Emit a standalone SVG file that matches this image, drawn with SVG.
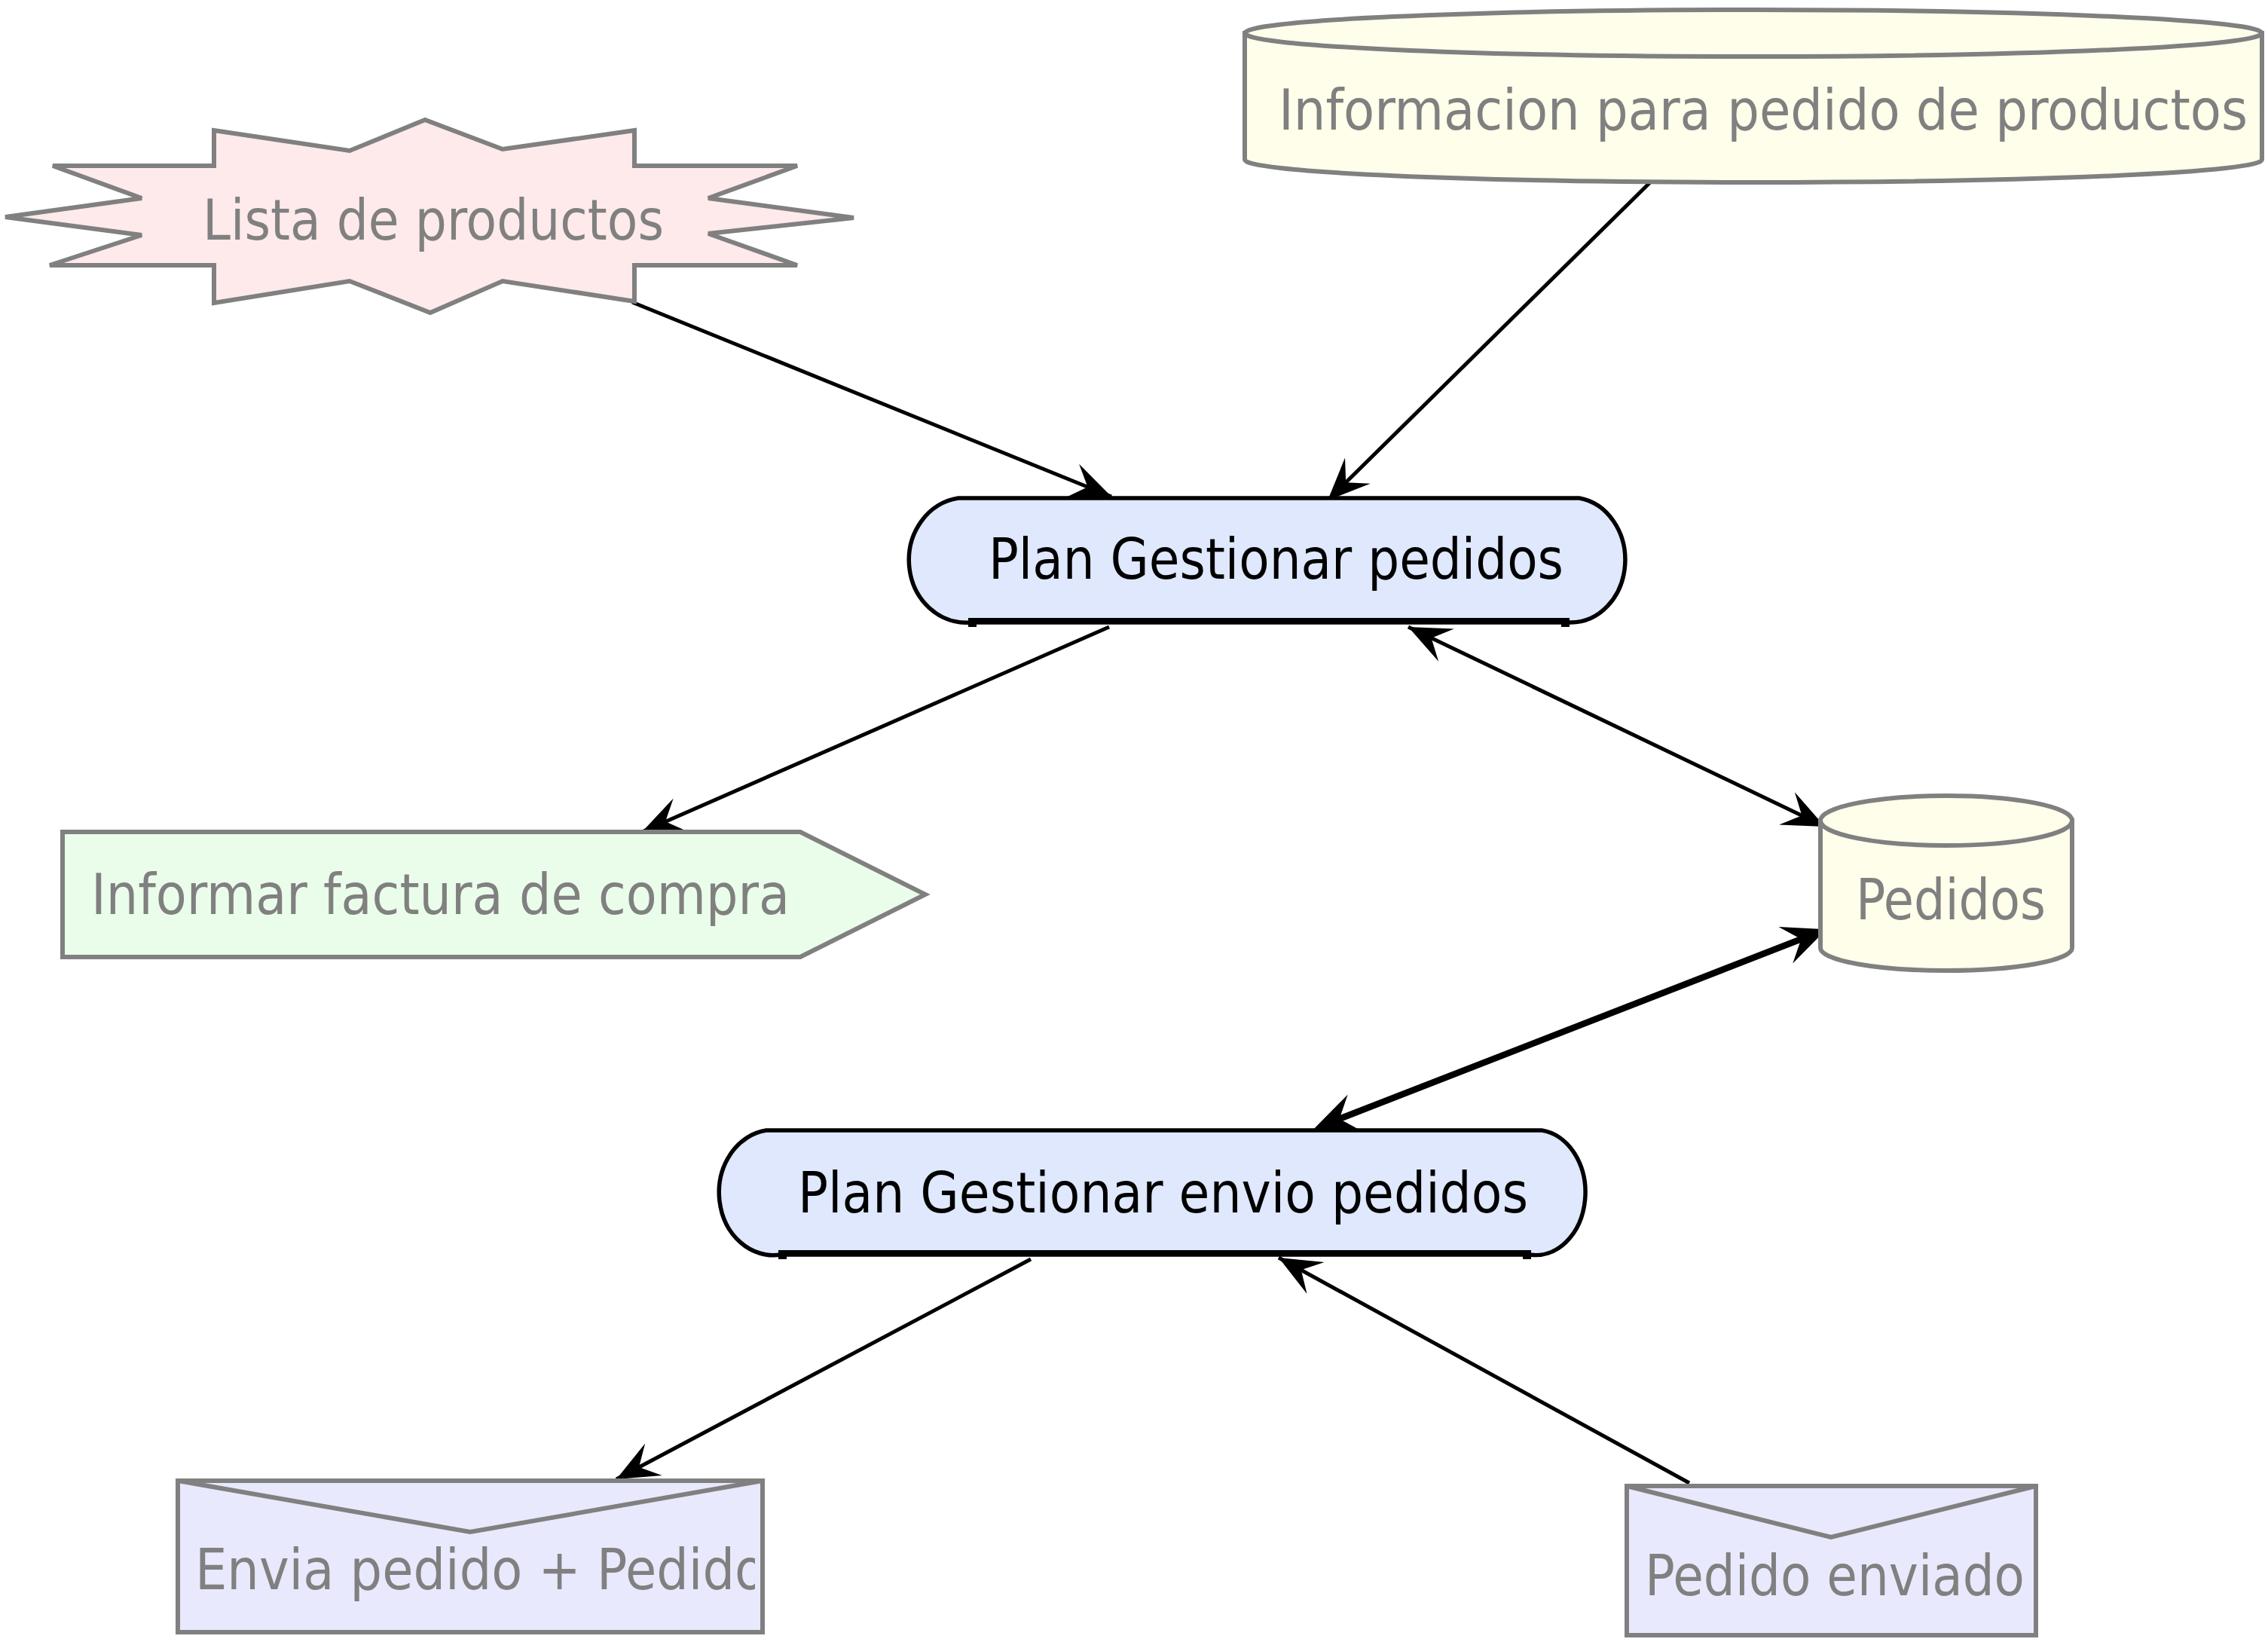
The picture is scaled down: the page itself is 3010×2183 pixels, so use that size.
<svg xmlns="http://www.w3.org/2000/svg" width="3010" height="2183" viewBox="0 0 3010 2183">
<style>
  .gray { stroke:#808080; stroke-width:6; }
  .plan { fill:#dfe8fd; stroke:#000; stroke-width:5.5; }
  .lbl { font-family:"DejaVu Sans Condensed","DejaVu Sans","Liberation Sans",sans-serif; font-size:75px; fill:#808080; }
  .lblb { font-family:"DejaVu Sans Condensed","DejaVu Sans","Liberation Sans",sans-serif; font-size:74px; fill:#000; }
  .conn { fill:none; stroke:#000; stroke-width:5; }
  .thick { stroke-width:8.5; }
</style>
<defs>
  <marker id="ah" markerUnits="userSpaceOnUse" orient="auto-start-reverse" overflow="visible" markerWidth="1" markerHeight="1" refX="0" refY="0">
    <path d="M0,0 L-56,-24 L-34,0 L-56,24 Z" fill="#000"/>
  </marker>
  <marker id="ahT" markerUnits="userSpaceOnUse" orient="auto-start-reverse" overflow="visible" markerWidth="1" markerHeight="1" refX="0" refY="0">
    <path d="M16,0 L-42,-26 L-20,0 L-42,26 Z" fill="#000"/>
  </marker>
  <clipPath id="clipEnvia"><rect x="238" y="1967" width="764" height="197"/></clipPath>
</defs>
<rect x="0" y="0" width="3010" height="2183" fill="#fff"/>

<g id="connectors">
  <line class="conn" x1="839" y1="401" x2="1475" y2="659" marker-end="url(#ah)"/>
  <line class="conn" x1="2190" y1="242" x2="1762" y2="664" marker-end="url(#ah)"/>
  <line class="conn" x1="1472" y1="832" x2="852" y2="1104" marker-end="url(#ah)"/>
  <line class="conn" x1="1869" y1="832" x2="2422" y2="1097" marker-start="url(#ah)" marker-end="url(#ah)"/>
  <line class="conn thick" x1="1759" y1="1492" x2="2409" y2="1239" marker-start="url(#ahT)" marker-end="url(#ahT)"/>
  <line class="conn" x1="1368" y1="1671" x2="818" y2="1963" marker-end="url(#ah)"/>
  <line class="conn" x1="2242" y1="1968" x2="1697" y2="1669" marker-end="url(#ah)"/>
</g>

<g id="lista-productos">
  <polygon class="gray" fill="#feeaea" points="564,159 464,200 284,173 284,220 70,220 188,263 7,288 188,312 66,352 284,352 284,402 464,373 571,415 667,373 842,400 842,352 1058,352 940,310 1133,289 940,263 1058,220 842,220 842,173 667,198"/>
  <text class="lbl" x="269" y="318" textLength="612" lengthAdjust="spacingAndGlyphs">Lista de productos</text>
</g>

<g id="informacion-pedido">
  <path class="gray" fill="#fefeea" d="M1652,44 V212 A675,30 0 0 0 3002,212 V44 Z"/>
  <ellipse class="gray" fill="#fefeea" cx="2327" cy="44" rx="675" ry="31"/>
  <text class="lbl" x="1697" y="172" textLength="1286" lengthAdjust="spacingAndGlyphs">Informacion para pedido de productos</text>
</g>

<g id="plan-gestionar-pedidos">
  <path class="plan" d="M1272,661 H2096 A72,83 0 0 1 2084,826 H1288 A76,83 0 0 1 1272,661 Z"/>
  <line x1="1288" y1="824" x2="2082" y2="824" stroke="#000" stroke-width="8"/>
  <rect x="1285" y="820" width="11" height="12" fill="#000"/>
  <rect x="2072" y="820" width="11" height="12" fill="#000"/>
  <text class="lblb" x="1312" y="768" textLength="763" lengthAdjust="spacingAndGlyphs">Plan Gestionar pedidos</text>
</g>

<g id="informar-factura">
  <polygon class="gray" fill="#eafdea" points="83,1104 1062,1104 1228,1187 1062,1270 83,1270"/>
  <text class="lbl" x="121" y="1213" textLength="927" lengthAdjust="spacingAndGlyphs">Informar factura de compra</text>
</g>

<g id="pedidos">
  <path class="gray" fill="#fefeea" d="M2416,1089 V1258 A167,30 0 0 0 2750,1258 V1089 Z"/>
  <ellipse class="gray" fill="#fefeea" cx="2583" cy="1089" rx="167" ry="33"/>
  <text class="lbl" x="2463" y="1220" textLength="252" lengthAdjust="spacingAndGlyphs">Pedidos</text>
</g>

<g id="plan-gestionar-envio">
  <path class="plan" d="M1017,1500 H2046 A66,83 0 0 1 2030,1665 H1036 A72,83 0 0 1 1017,1500 Z"/>
  <line x1="1036" y1="1663" x2="2030" y2="1663" stroke="#000" stroke-width="8"/>
  <rect x="1033" y="1659" width="11" height="12" fill="#000"/>
  <rect x="2021" y="1659" width="11" height="12" fill="#000"/>
  <text class="lblb" x="1059" y="1609" textLength="969" lengthAdjust="spacingAndGlyphs">Plan Gestionar envio pedidos</text>
</g>

<g id="envia-pedido">
  <rect class="gray" fill="#e9e9fd" x="236" y="1965" width="776" height="201"/>
  <polyline class="gray" fill="none" points="236,1965 624,2033 1012,1965"/>
  <text class="lbl" x="259" y="2109" textLength="757" lengthAdjust="spacingAndGlyphs" clip-path="url(#clipEnvia)">Envia pedido + Pedido</text>
</g>

<g id="pedido-enviado">
  <rect class="gray" fill="#e9e9fd" x="2159" y="1972" width="543" height="198"/>
  <polyline class="gray" fill="none" points="2159,1972 2430,2040 2702,1972"/>
  <text class="lbl" x="2183" y="2117" textLength="504" lengthAdjust="spacingAndGlyphs">Pedido enviado</text>
</g>
</svg>
